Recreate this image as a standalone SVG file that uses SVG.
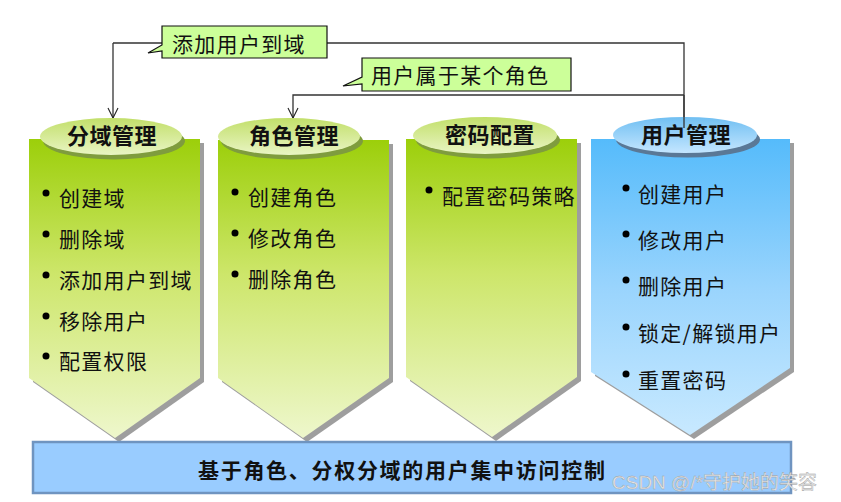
<svg xmlns="http://www.w3.org/2000/svg" width="841" height="502" viewBox="0 0 841 502">
<defs>
<linearGradient id="gG" x1="0" y1="0" x2="0" y2="1"><stop offset="0" stop-color="#9ccf0a"/><stop offset="0.45" stop-color="#cde66a"/><stop offset="1" stop-color="#eef7cc"/></linearGradient>
<linearGradient id="gB" x1="0" y1="0" x2="0" y2="1"><stop offset="0" stop-color="#55bbfb"/><stop offset="0.5" stop-color="#99d4fd"/><stop offset="1" stop-color="#c8e9ff"/></linearGradient>
<linearGradient id="eG" x1="0" y1="0" x2="0" y2="1"><stop offset="0" stop-color="#c2df6a"/><stop offset="1" stop-color="#e9f5c4"/></linearGradient>
<linearGradient id="eB" x1="0" y1="0" x2="0" y2="1"><stop offset="0" stop-color="#70bff2"/><stop offset="1" stop-color="#c4e6ff"/></linearGradient>
</defs>
<style>
.t{font-family:"Noto Sans CJK SC","Noto Sans",sans-serif;fill:#111;}
.item{font-size:21px;letter-spacing:1.3px;}
.ttl{font-size:22px;font-weight:bold;letter-spacing:0.5px;text-anchor:middle;}
.sh{fill:#9e9e9e;}
.line{fill:none;stroke:#333;stroke-width:1.3;}
.ah{fill:none;stroke:#222;stroke-width:1.1;}
.call{fill:#ccff99;stroke:#111;stroke-width:1.2;}
.dot{fill:#000;}
</style>
<rect width="841" height="502" fill="#fff"/>

<g id="connectors">
<polyline class="line" points="113,43 684,43 684,128"/>
<line class="line" x1="113" y1="43" x2="113" y2="118"/>
<polyline class="ah" points="108,108 113,118 118,108"/>
<polyline class="line" points="684,95 293,95 293,118"/>
<polyline class="ah" points="288,108 293,118 298,108"/>
</g>

<g id="callout1">
<path class="call" d="M162,26 H327 V58 H162 V51 L148,53 L162,45 Z"/>
<text class="t item" x="172" y="52">添加用户到域</text>
</g>
<g id="callout2">
<path class="call" d="M362,58 H571 V91 H362 V84 L343,86 L362,77 Z"/>
<text class="t item" x="371" y="83">用户属于某个角色</text>
</g>

<g id="col1">
<polygon class="sh" points="33,143 204,143 204,382 119,442 33,382"/>
<polygon fill="url(#gG)" points="29,139 200,139 200,378 115,438 29,378"/>
<ellipse cx="114" cy="141" rx="71" ry="18.5" fill="#7f9c3e"/>
<ellipse cx="111" cy="136.5" rx="71" ry="18.5" fill="url(#eG)"/>
<text class="t ttl" x="112" y="144">分域管理</text>
<circle class="dot" cx="46" cy="193" r="3.5"/><text class="t item" x="59" y="206">创建域</text>
<circle class="dot" cx="46" cy="234" r="3.5"/><text class="t item" x="59" y="247">删除域</text>
<circle class="dot" cx="46" cy="275" r="3.5"/><text class="t item" x="59" y="288">添加用户到域</text>
<circle class="dot" cx="46" cy="316" r="3.5"/><text class="t item" x="59" y="329">移除用户</text>
<circle class="dot" cx="46" cy="356" r="3.5"/><text class="t item" x="59" y="369">配置权限</text>
</g>

<g id="col2">
<polygon class="sh" points="222,144 393,144 393,382 307,442 222,382"/>
<polygon fill="url(#gG)" points="218,140 389,140 389,378 303,438 218,378"/>
<ellipse cx="292" cy="141" rx="71" ry="18.5" fill="#7f9c3e"/>
<ellipse cx="289" cy="136.5" rx="71" ry="18.5" fill="url(#eG)"/>
<text class="t ttl" x="294" y="144">角色管理</text>
<circle class="dot" cx="235" cy="192" r="3.5"/><text class="t item" x="248" y="205">创建角色</text>
<circle class="dot" cx="235" cy="233" r="3.5"/><text class="t item" x="248" y="246">修改角色</text>
<circle class="dot" cx="235" cy="274" r="3.5"/><text class="t item" x="248" y="287">删除角色</text>
</g>

<g id="col3">
<polygon class="sh" points="410,143 581,143 581,381 496,441 410,381"/>
<polygon fill="url(#gG)" points="406,139 577,139 577,377 492,437 406,377"/>
<ellipse cx="488" cy="140" rx="72" ry="18.5" fill="#7f9c3e"/>
<ellipse cx="485" cy="135.5" rx="72" ry="18.5" fill="url(#eG)"/>
<text class="t ttl" x="490" y="143">密码配置</text>
<circle class="dot" cx="429" cy="190" r="3.5"/><text class="t item" x="442" y="204">配置密码策略</text>
</g>

<g id="col4">
<polygon class="sh" points="595,143 794,143 794,372 694,439 595,376"/>
<polygon fill="url(#gB)" points="591,139 790,139 790,368 690,435 591,372"/>
<ellipse cx="688" cy="139.5" rx="72" ry="18" fill="#5a7896"/>
<ellipse cx="685" cy="135" rx="72" ry="18" fill="url(#eB)"/>
<line class="line" x1="684" y1="95" x2="684" y2="128"/>
<text class="t ttl" x="686" y="143">用户管理</text>
<circle class="dot" cx="626" cy="188" r="3.5"/><text class="t item" x="638" y="202">创建用户</text>
<circle class="dot" cx="626" cy="234" r="3.5"/><text class="t item" x="638" y="248">修改用户</text>
<circle class="dot" cx="626" cy="280" r="3.5"/><text class="t item" x="638" y="294">删除用户</text>
<circle class="dot" cx="626" cy="327" r="3.5"/><text class="t item" x="638" y="341">锁定/解锁用户</text>
<circle class="dot" cx="626" cy="374" r="3.5"/><text class="t item" x="638" y="388">重置密码</text>
</g>

<g id="base">
<rect x="33" y="442" width="758" height="51" fill="#99ccff" stroke="#6f94c0" stroke-width="2.5"/>
<text class="t" x="198" y="478" font-size="21" font-weight="bold" letter-spacing="1.7">基于角色、分权分域的用户集中访问控制</text>
</g>

<text x="612" y="489" font-family="'Liberation Sans','Noto Sans CJK SC',sans-serif" font-size="19" fill="#e6e6e6" stroke="#9a9a9a" stroke-width="0.35">CSDN @/*守护她的笑容</text>
</svg>
